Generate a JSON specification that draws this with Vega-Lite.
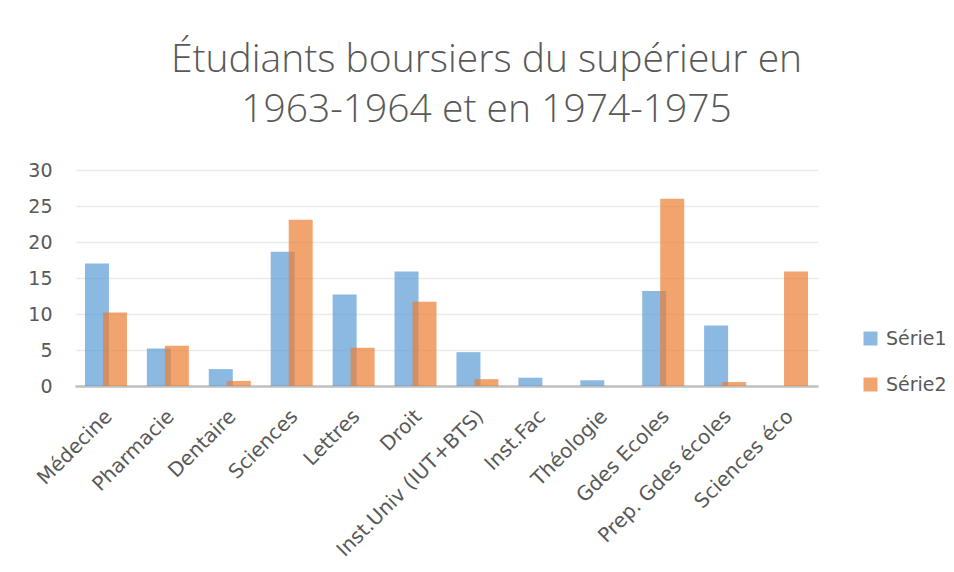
{
  "$schema": "https://vega.github.io/schema/vega-lite/v6.json",
  "width": 743,
  "height": 216,
  "autosize": "none",
  "padding": {"left": 75, "top": 170, "right": 136, "bottom": 186},
  "background": "#ffffff",
  "title": {
    "text": ["Étudiants boursiers du supérieur en", "1963-1964 et en 1974-1975"],
    "font": "Open Sans",
    "fontWeight": 300,
    "fontSize": 39,
    "color": "#595959",
    "anchor": "middle",
    "dx": 40,
    "dy": 46,
    "lineHeight": 50,
    "baseline": "alphabetic",
    "offset": 46
  },
  "data": {
    "values": [
      {"cat": "Médecine", "s1": 17.0, "s2": 10.2},
      {"cat": "Pharmacie", "s1": 5.2, "s2": 5.6},
      {"cat": "Dentaire", "s1": 2.35, "s2": 0.7},
      {"cat": "Sciences", "s1": 18.65, "s2": 23.1},
      {"cat": "Lettres", "s1": 12.7, "s2": 5.3},
      {"cat": "Droit", "s1": 15.9, "s2": 11.7},
      {"cat": "Inst.Univ (IUT+BTS)", "s1": 4.7, "s2": 0.95},
      {"cat": "Inst.Fac", "s1": 1.15, "s2": 0},
      {"cat": "Théologie", "s1": 0.8, "s2": 0},
      {"cat": "Gdes Ecoles", "s1": 13.2, "s2": 26.0},
      {"cat": "Prep. Gdes écoles", "s1": 8.4, "s2": 0.55},
      {"cat": "Sciences éco", "s1": 0, "s2": 15.9}
    ]
  },
  "encoding": {
    "x": {
      "field": "cat",
      "type": "nominal",
      "sort": null,
      "title": null,
      "scale": {"paddingInner": 0, "paddingOuter": 0},
      "axis": {
        "labelAngle": -45,
        "labelAlign": "right",
        "labelBaseline": "middle",
        "labelPadding": 27,
        "labelOffset": 3,
        "labelFont": "DejaVu Sans",
        "labelFontSize": 20,
        "labelColor": "#595959",
        "ticks": false,
        "domainColor": "#BFBFBF",
        "domainWidth": 2.5,
        "grid": false,
        "labelOverlap": false,
        "labelLimit": 400
      }
    }
  },
  "layer": [
    {
      "mark": {"type": "bar", "width": 24, "xOffset": -9, "opacity": 0.7},
      "encoding": {
        "y": {
          "field": "s1",
          "type": "quantitative",
          "title": null,
          "scale": {"domain": [0, 30], "nice": false},
          "axis": {
            "values": [0, 5, 10, 15, 20, 25, 30],
            "labelOverlap": false,
            "domain": false,
            "ticks": false,
            "labelPadding": 23,
            "labelFont": "DejaVu Sans",
            "labelFontSize": 19,
            "labelColor": "#595959",
            "gridColor": "#EBEBEB",
            "gridWidth": 1.3
          }
        },
        "color": {"datum": "Série1"}
      }
    },
    {
      "mark": {"type": "bar", "width": 24, "xOffset": 9, "opacity": 0.7},
      "encoding": {
        "y": {
          "field": "s2",
          "type": "quantitative",
          "title": null,
          "scale": {"domain": [0, 30], "nice": false},
          "axis": {
            "values": [0, 5, 10, 15, 20, 25, 30],
            "labelOverlap": false,
            "domain": false,
            "ticks": false,
            "labelPadding": 23,
            "labelFont": "DejaVu Sans",
            "labelFontSize": 19,
            "labelColor": "#595959",
            "gridColor": "#EBEBEB",
            "gridWidth": 1.3
          }
        },
        "color": {"datum": "Série2"}
      }
    }
  ],
  "resolve": {"scale": {"y": "shared"}},
  "config": {
    "view": {"stroke": null},
    "range": {"category": ["#5B9BD5", "#ED7D31"]},
    "legend": {
      "orient": "none",
      "legendX": 786,
      "legendY": 159,
      "title": null,
      "symbolType": "square",
      "symbolSize": 196,
      "symbolOpacity": 0.7,
      "symbolStrokeWidth": 0,
      "labelFont": "DejaVu Sans",
      "labelFontSize": 19,
      "labelColor": "#595959",
      "labelOffset": 6,
      "rowPadding": 26
    }
  }
}
